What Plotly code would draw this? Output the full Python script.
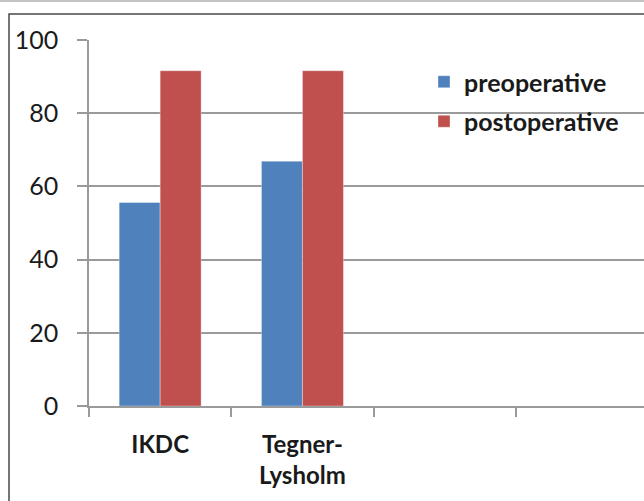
import plotly.graph_objects as go

categories = ["IKDC", "Tegner-<br>Lysholm", " ", "  "]
preoperative = [55.6, 66.9, None, None]
postoperative = [91.6, 91.6, None, None]
y_ticks = [0, 20, 40, 60, 80, 100]

W, H = 644, 501
L, R, T, B = 89, 0, 40, 95
pw = W - L - R
ph = H - T - B

def px2x(px):
    return (px - L) / pw

def py2y(py):
    return (H - B - py) / ph

fig = go.Figure()
fig.add_trace(go.Bar(name="preoperative", x=categories, y=preoperative,
                     marker=dict(color="#4F81BD", line=dict(color="rgba(255,255,255,0.35)", width=1)),
                     legendgroup="a"))
fig.add_trace(go.Bar(name="postoperative", x=categories, y=postoperative,
                     marker=dict(color="#C0504D", line=dict(color="rgba(255,255,255,0.35)", width=1)),
                     legendgroup="b"))

cat_w = 142.3
xmax = -0.5 + pw / cat_w

fig.update_layout(
    width=W, height=H,
    margin=dict(l=L, r=R, t=T, b=B, pad=0),
    paper_bgcolor="white", plot_bgcolor="white",
    barmode="group", bargap=0.424, bargroupgap=0,
    font=dict(family="Lato, Open Sans, sans-serif", color="#1a1a1a"),
    showlegend=True,
    legend=dict(x=px2x(424), y=py2y(59), xanchor="left", yanchor="top",
                bgcolor="rgba(0,0,0,0)", tracegroupgap=4,
                font=dict(size=25, family="Lato", weight="bold", color="#1a1a1a")),
    xaxis=dict(type="category", range=[-0.5, xmax], showgrid=False,
               showline=True, linecolor="#9a9a9a", linewidth=1.5,
               ticks="outside", tickson="boundaries", ticklen=9, tickcolor="#9a9a9a", tickwidth=1.5,
               tickfont=dict(size=24, family="Lato", weight="bold", color="#1a1a1a"),
               ticklabelstandoff=16, fixedrange=True),
    yaxis=dict(range=[0, 100], tickvals=y_ticks, showgrid=True, gridcolor="#9a9a9a", gridwidth=1.5,
               showline=True, linecolor="#9a9a9a", linewidth=1.5, zeroline=False,
               ticks="outside", ticklen=10, tickcolor="#9a9a9a", tickwidth=1.5,
               tickfont=dict(size=25, family="Lato", color="#1a1a1a"),
               ticklabelstandoff=14, fixedrange=True),
    shapes=[
        dict(type="rect", xref="paper", yref="paper",
             x0=px2x(9), x1=px2x(660), y0=py2y(520), y1=py2y(14),
             line=dict(color="#4a4a4a", width=1.5), layer="above"),
        dict(type="line", xref="paper", yref="paper",
             x0=px2x(0), x1=px2x(644), y0=py2y(1), y1=py2y(1),
             line=dict(color="#b0b0b0", width=1.5)),
    ],
)

fig.write_html("out.html",
               config={"displayModeBar": False},
               post_script="document.body.style.margin='0';document.body.style.overflow='hidden';")
